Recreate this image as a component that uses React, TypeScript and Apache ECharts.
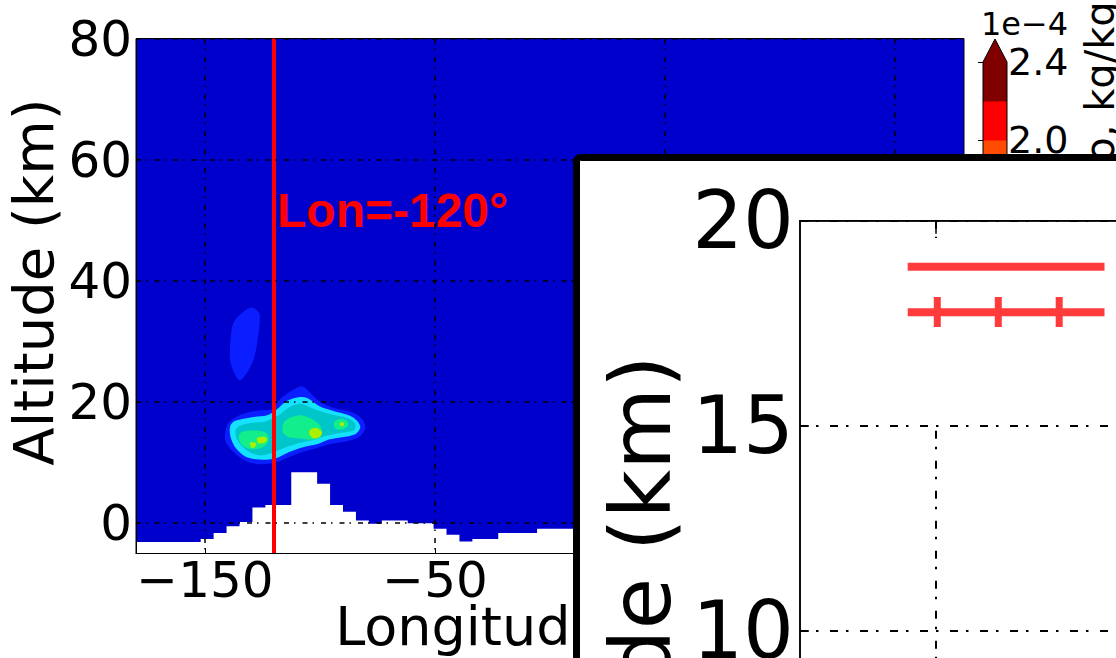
import React, { useEffect, useRef } from 'react';
import * as echarts from 'echarts';

// Axis ticks
const lonTicks = [-150, -50, 50, 150];
const altTicks = [0, 20, 40, 60, 80];
const insetAltLabels = [10, 15, 20];
const insetLonTicks = [1];

// Surface elevation (km) of each 5.625° model column, by column centre longitude
const groundLon = [
  -177.1875, -171.5625, -165.9375, -160.3125, -154.6875, -149.0625, -143.4375, -137.8125,
  -132.1875, -126.5625, -120.9375, -115.3125, -109.6875, -104.0625, -98.4375, -92.8125,
  -87.1875, -81.5625, -75.9375, -70.3125, -64.6875, -59.0625, -53.4375, -47.8125,
  -42.1875, -36.5625, -30.9375, -25.3125, -19.6875, -14.0625, -8.4375, -2.8125,
  2.8125, 8.4375,
];
const groundTop = [
  -3.1, -3.1, -3.1, -3.1, -3.1, -2.6, -1.6, -0.5,
  0.2, 2.6, 3.0, 3.0, 8.4, 8.4, 6.5, 3.0,
  1.9, 0.45, -0.1, 0.45, 0.45, 0.0, 0.0, -0.9,
  -1.9, -3.0, -2.6, -2.6, -1.6, -1.6, -1.6, -0.9,
  -0.9, -0.9,
];

// Filled contour outlines [lon, alt km], one array per closed region
const plumeOuter = [
  [-141.2, 15.0], [-139.7, 16.6], [-133.9, 18.0], [-126.7, 18.6], [-120.9, 18.8], [-117.3, 20.5],
  [-112.2, 21.9], [-107.8, 22.6], [-104.7, 21.7], [-100.6, 20.2], [-94.8, 19.1], [-86.1, 18.3],
  [-81.7, 17.2], [-80.3, 15.8], [-82.5, 14.4], [-87.5, 13.6], [-94.8, 13.1], [-100.6, 12.5],
  [-107.8, 11.7], [-113.6, 10.9], [-119.4, 10.0], [-126.7, 9.75], [-132.5, 10.3], [-138.3, 12.0],
  [-141.2, 13.6],
];
const plumeUpper = [
  [-129.7, 35.6], [-126.4, 34.6], [-126.4, 32.4], [-129.0, 26.9], [-134.8, 23.6],
  [-138.8, 26.3], [-139.1, 29.1], [-137.7, 33.0], [-133.3, 34.9],
];
const plumeBand2 = [
  [-139.0, 16.1], [-136.8, 16.9], [-129.6, 17.5], [-123.0, 17.8], [-118.7, 18.8], [-114.3, 20.2],
  [-109.3, 20.8], [-105.2, 20.6], [-100.6, 19.4], [-94.8, 18.6], [-87.5, 17.8], [-83.9, 16.9],
  [-82.5, 15.8], [-84.7, 14.7], [-90.4, 14.2], [-96.2, 13.8], [-100.6, 13.1], [-107.8, 12.5],
  [-113.6, 11.7], [-119.4, 10.7], [-126.7, 10.5], [-132.5, 11.0], [-136.8, 12.5], [-139.0, 14.4],
];
const plumeBand3 = [
  [-136.1, 15.8], [-131.0, 16.5], [-123.8, 16.8], [-118.0, 17.8], [-113.6, 19.1], [-108.6, 19.7],
  [-104.2, 19.1], [-99.1, 18.4], [-93.3, 17.8], [-87.5, 17.3], [-84.7, 16.4], [-85.3, 15.3],
  [-91.2, 14.9], [-97.7, 14.4], [-102.0, 13.8], [-109.3, 13.2], [-115.1, 12.5], [-120.9, 11.6],
  [-126.7, 11.2], [-131.7, 12.0], [-135.3, 13.3], [-136.8, 14.7],
];
const plumeCoreWest = [
  [-135.3, 14.4], [-133.9, 15.1], [-128.1, 15.3], [-123.8, 15.0], [-122.3, 13.9],
  [-123.8, 12.8], [-128.1, 12.2], [-132.5, 12.5], [-134.7, 13.3],
];
const plumeCoreMid = [
  [-115.8, 16.6], [-113.6, 17.3], [-108.6, 17.8], [-103.5, 17.2], [-100.6, 16.4], [-99.1, 15.3],
  [-99.9, 14.2], [-103.5, 13.8], [-108.6, 14.0], [-113.6, 14.2], [-116.2, 15.0],
];
const plumeCoreEast = [
  [-94.0, 16.6], [-91.2, 17.2], [-88.3, 16.9], [-87.8, 16.1], [-90.4, 15.5], [-93.3, 15.6],
];
const plumePeakA = [[-130.4, 13.3], [-127.8, 13.2], [-128.4, 12.5], [-129.9, 12.5]];
const plumePeakB = [[-127.4, 14.0], [-124.5, 14.3], [-123.0, 13.9], [-123.8, 13.3], [-126.7, 13.2]];
const plumePeakC = [[-104.2, 15.5], [-101.3, 15.7], [-99.1, 15.0], [-99.9, 14.3], [-102.7, 14.0], [-104.7, 14.7]];
const plumePeakD = [[-91.2, 16.6], [-89.7, 16.6], [-89.7, 16.1], [-91.2, 16.1]];

// Contour levels (x 1e-4 kg/kg) and the fill of each band
const cbLevels = [0, 0.2, 0.4, 0.6, 0.8, 1.0, 1.2, 1.4, 1.6, 1.8, 2.0, 2.2, 2.4];
const bandColors = [
  '#0000cc', '#0a1eff', '#14e2ff', '#00c6ca', '#12ee8c', '#aaf000',
  '#f0f000', '#ffc000', '#ff8c00', '#ff4c00', '#ff0000', '#800000',
];
const overColor = '#800000';

const contourShapes = [
  { band: 1, pts: plumeOuter },
  { band: 1, pts: plumeUpper },
  { band: 2, pts: plumeBand2 },
  { band: 3, pts: plumeBand3 },
  { band: 4, pts: plumeCoreWest },
  { band: 4, pts: plumeCoreMid },
  { band: 4, pts: plumeCoreEast },
  { band: 5, pts: plumePeakA },
  { band: 5, pts: plumePeakB },
  { band: 5, pts: plumePeakC },
  { band: 5, pts: plumePeakD },
];

const FONT = 'DejaVu Sans';
const mainDash = [5, 5, 1.5, 7];
const insetDash = [8, 8, 2.5, 11.5];
const minusFmt = (v: number) => (v < 0 ? '\u2212' + Math.abs(v) : String(v));
const GROUND_BASE = -5;
const HALF_CELL = 2.8125;

const option: any = {
  animation: false,
  textStyle: { fontFamily: FONT, color: '#000' },
  grid: [
    { left: 136, top: 38.5, width: 828, height: 515, outerBoundsMode: 'none', containLabel: false, show: true, backgroundColor: bandColors[0], borderColor: '#000', borderWidth: 1, z: 0 },
    { left: 983, top: 62, width: 24, height: 468, outerBoundsMode: 'none', containLabel: false, z: 1 },
    { left: 800, top: 220.7, width: 544, height: 820, outerBoundsMode: 'none', containLabel: false, show: true, backgroundColor: 'transparent', borderColor: '#000', borderWidth: 1.5, z: 11 },
  ],
  xAxis: [
    {
      gridIndex: 0, type: 'value', min: -180, max: 180, z: 6,
      axisLine: { show: true, onZero: false, lineStyle: { color: '#000', width: 1 } },
      axisTick: { show: true, inside: true, length: 5, customValues: lonTicks, lineStyle: { color: '#000' } },
      axisLabel: { customValues: lonTicks, fontSize: 50, lineHeight: 44, margin: 4, color: '#000', fontFamily: FONT, formatter: minusFmt },
      splitLine: { show: true, lineStyle: { color: '#000', width: 1.5, type: mainDash } },
      name: 'Longitude (deg)', nameLocation: 'middle', nameGap: 49, nameMoveOverlap: false,
      nameTextStyle: { fontSize: 54, lineHeight: 48, color: '#000', fontFamily: FONT },
    },
    { gridIndex: 1, type: 'value', min: 0, max: 1, show: false },
    {
      gridIndex: 2, type: 'value', min: 0, max: 4, position: 'bottom', z: 12,
      axisLine: { show: true, onZero: false, lineStyle: { color: '#000', width: 1.5 } },
      axisTick: { show: true, inside: true, length: 13, customValues: insetLonTicks, lineStyle: { color: '#000', width: 1.5 } },
      axisLabel: { show: false },
      splitLine: { show: true, lineStyle: { color: '#000', width: 2, type: insetDash } },
    },
    {
      gridIndex: 2, type: 'value', min: 0, max: 4, position: 'top', z: 12,
      axisLine: { show: true, onZero: false, lineStyle: { color: '#000', width: 1.5 } },
      axisTick: { show: true, inside: true, length: 13, customValues: insetLonTicks, lineStyle: { color: '#000', width: 1.5 } },
      axisLabel: { show: false },
      splitLine: { show: false },
    },
  ],
  yAxis: [
    {
      gridIndex: 0, type: 'value', min: GROUND_BASE, max: 80, z: 6,
      axisLine: { show: true, onZero: false, lineStyle: { color: '#000', width: 1 } },
      axisTick: { show: true, inside: true, length: 5, customValues: altTicks, lineStyle: { color: '#000' } },
      axisLabel: { customValues: altTicks, fontSize: 50, margin: 4, color: '#000', fontFamily: FONT },
      splitLine: { show: true, lineStyle: { color: '#000', width: 1.5, type: mainDash } },
      name: 'Altitude (km)', nameLocation: 'middle', nameGap: 75, nameMoveOverlap: false,
      nameTextStyle: { fontSize: 56, color: '#000', fontFamily: FONT, padding: [0, 0, 0, 28] },
    },
    {
      gridIndex: 1, type: 'value', min: 0, max: 2.4, interval: 0.4, position: 'right', z: 6,
      axisLine: { show: false },
      axisTick: { show: true, inside: true, length: 5, lineStyle: { color: '#000' } },
      axisLabel: { fontSize: 38, margin: 1, color: '#000', fontFamily: FONT, formatter: (v: number) => v.toFixed(1) },
      splitLine: { show: false },
      name: 'SO2 mass mixing ratio, kg/kg', nameLocation: 'middle', nameRotate: 90, nameGap: 73, nameMoveOverlap: false,
      nameTextStyle: { fontSize: 40, color: '#000', fontFamily: FONT },
    },
    {
      gridIndex: 2, type: 'value', min: 0, max: 20, interval: 5, z: 12,
      axisLine: { show: true, onZero: false, lineStyle: { color: '#000', width: 1.5 } },
      axisTick: { show: true, inside: true, length: 9, lineStyle: { color: '#000', width: 1.5 } },
      axisLabel: { customValues: insetAltLabels, fontSize: 80, margin: 6, color: '#000', fontFamily: FONT },
      splitLine: { show: true, lineStyle: { color: '#000', width: 2, type: insetDash } },
      name: 'Altitude (km)', nameLocation: 'middle', nameGap: 117, nameMoveOverlap: false,
      nameTextStyle: { fontSize: 84, color: '#000', fontFamily: FONT },
    },
  ],
  series: [
    {
      // filled contours of the plume
      type: 'custom', xAxisIndex: 0, yAxisIndex: 0, z: 2, silent: true,
      data: contourShapes.map((s) => s.pts[0]),
      renderItem: (params: any, api: any) => {
        const s = contourShapes[params.dataIndex];
        return {
          type: 'polygon',
          shape: { points: s.pts.map((p) => api.coord(p)), smooth: 0.3 },
          style: { fill: bandColors[s.band], stroke: null },
        };
      },
    },
    {
      // masked ground below the surface
      type: 'custom', xAxisIndex: 0, yAxisIndex: 0, z: 3, silent: true,
      data: [[groundLon[0], groundTop[0]]],
      renderItem: (_params: any, api: any) => {
        const pts: number[][] = [api.coord([groundLon[0] - HALF_CELL, GROUND_BASE])];
        groundLon.forEach((lon, i) => {
          pts.push(api.coord([lon - HALF_CELL, groundTop[i]]));
          pts.push(api.coord([lon + HALF_CELL, groundTop[i]]));
        });
        pts.push(api.coord([groundLon[groundLon.length - 1] + HALF_CELL, GROUND_BASE]));
        return { type: 'polygon', shape: { points: pts }, style: { fill: '#ffffff', stroke: null } };
      },
      markLine: {
        silent: true, symbol: ['none', 'none'], z: 4,
        label: { show: false },
        lineStyle: { color: '#ff0000', width: 4, type: 'solid' },
        data: [{ xAxis: -120 }],
      },
      markPoint: {
        silent: true, z: 4,
        data: [{
          coord: [-120, 51.6], symbol: 'circle', symbolSize: 0,
          label: {
            show: true, position: 'right', distance: 3, formatter: 'Lon=-120°',
            fontSize: 48, fontWeight: 'bold', fontFamily: 'Liberation Sans', color: '#ff0000',
          },
        }],
      },
    },
    {
      // colorbar bands
      type: 'custom', xAxisIndex: 1, yAxisIndex: 1, z: 2, silent: true,
      data: bandColors.map((_c, i) => [0.5, cbLevels[i]]),
      renderItem: (params: any, api: any) => {
        const i = params.dataIndex;
        const p0 = api.coord([0, cbLevels[i]]);
        const p1 = api.coord([1, cbLevels[i + 1]]);
        return {
          type: 'rect',
          shape: { x: p0[0], y: p1[1], width: p1[0] - p0[0], height: p0[1] - p1[1] + 0.5 },
          style: { fill: bandColors[i], stroke: null },
        };
      },
    },
    {
      // colorbar "over" extension and outline
      type: 'custom', xAxisIndex: 1, yAxisIndex: 1, z: 3, silent: true,
      data: [[0.5, cbLevels[cbLevels.length - 1]]],
      renderItem: (_params: any, api: any) => {
        const top = cbLevels[cbLevels.length - 1];
        const bl = api.coord([0, cbLevels[0]]);
        const tl = api.coord([0, top]);
        const tr = api.coord([1, top]);
        const br = api.coord([1, cbLevels[0]]);
        const apex = [(tl[0] + tr[0]) / 2, tl[1] - 23];
        return {
          type: 'group',
          children: [
            { type: 'polygon', shape: { points: [tl, apex, tr] }, style: { fill: overColor, stroke: null } },
            { type: 'polygon', shape: { points: [bl, tl, apex, tr, br] }, style: { fill: null, stroke: '#000', lineWidth: 1 } },
          ],
        };
      },
    },
  ],
  graphic: [
    {
      type: 'text', z: 6,
      style: { text: '1e\u22124', x: 981, y: 24, fontSize: 32, fontFamily: FONT, fill: '#000', align: 'left', verticalAlign: 'middle' },
    },
    {
      // inset panel
      type: 'rect', z: 10,
      shape: { x: 576.5, y: 157.5, width: 700, height: 600, r: 4 },
      style: { fill: '#ffffff', stroke: '#000000', lineWidth: 7 },
    },
    {
      type: 'rect', z: 13,
      shape: { x: 898, y: 238, width: 300, height: 182 },
      style: { fill: '#ffffff', stroke: null },
    },
    {
      type: 'line', z: 14,
      shape: { x1: 907.7, y1: 266.7, x2: 1104.5, y2: 266.7 },
      style: { stroke: '#ff3b3b', lineWidth: 8, lineCap: 'butt' },
    },
    {
      type: 'line', z: 14,
      shape: { x1: 907.7, y1: 312.3, x2: 1104.5, y2: 312.3 },
      style: { stroke: '#ff3b3b', lineWidth: 8, lineCap: 'butt' },
    },
    ...[937.3, 998.3, 1059.2].map((x) => ({
      type: 'line', z: 14,
      shape: { x1: x, y1: 297, x2: x, y2: 327 },
      style: { stroke: '#ff3b3b', lineWidth: 7, lineCap: 'butt' },
    })),
  ],
};

export default function App() {
  const ref = useRef<HTMLDivElement>(null);
  useEffect(() => {
    const chart = echarts.init(ref.current as HTMLDivElement, null, { renderer: 'svg' });
    chart.setOption(option);
    return () => chart.dispose();
  }, []);
  return (
    <div
      ref={ref}
      style={{ position: 'fixed', left: 0, top: 0, width: 1116, height: 658, background: '#ffffff' }}
    />
  );
}
